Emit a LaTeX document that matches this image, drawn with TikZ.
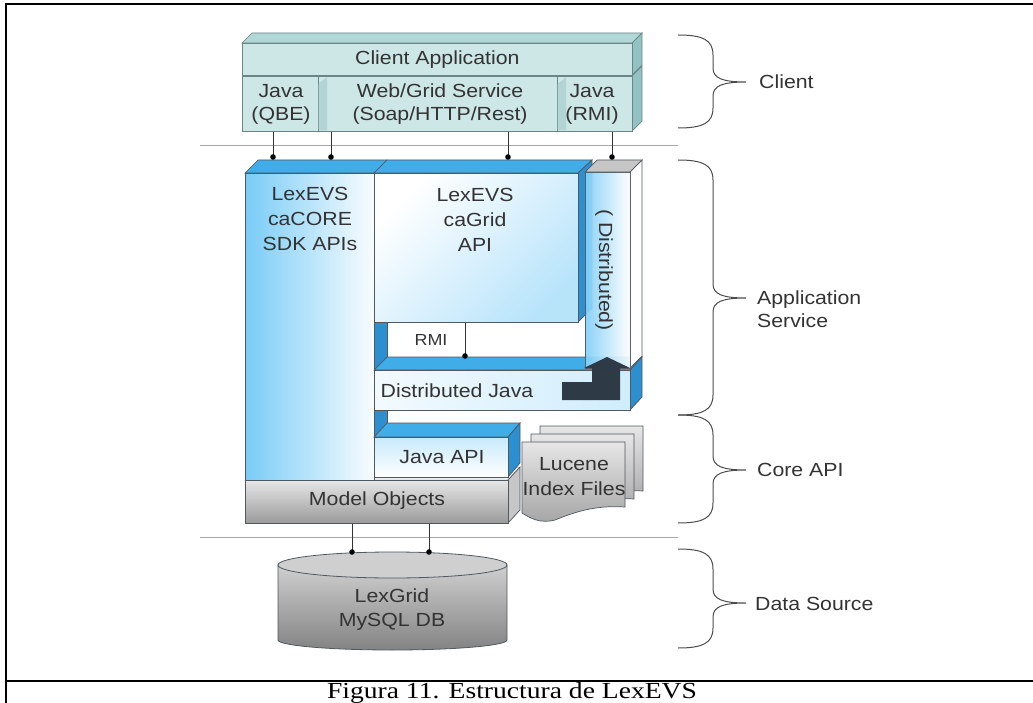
\documentclass[tikz,border=0pt]{standalone}
\usepackage{fontspec}
\setmainfont{Liberation Sans}[FakeStretch=1.12]
\newfontfamily\capfont{Liberation Serif}[FakeStretch=1.2]
\definecolor{tealF}{HTML}{CDE6E6}
\definecolor{tealT}{HTML}{B2D7D7}
\definecolor{tealS}{HTML}{92C2C2}
\definecolor{tealB}{HTML}{6A8585}
\definecolor{blueT}{HTML}{40ACE8}
\definecolor{blueS}{HTML}{2B8FD0}
\definecolor{blueL}{HTML}{62C3F5}
\definecolor{bord}{HTML}{505860}
\definecolor{grayT}{HTML}{E6E6E6}
\definecolor{grayB}{HTML}{9A9A9A}
\definecolor{grayS}{HTML}{C6C6C6}
\definecolor{darkA}{HTML}{2E3B47}
\definecolor{txt}{HTML}{333333}
\definecolor{sepc}{HTML}{A8A8A8}
\newcommand\mybrace[3]{\draw[brace] (678,#1) .. controls (703,#1) and (713,{#1+5}) .. (713,{#1+20}) -- (713,{#2-14}) .. controls (713,{#2-4}) and (722,#2) .. (746,#2) .. controls (722,#2) and (713,{#2+4}) .. (713,{#2+14}) -- (713,{#3-20}) .. controls (713,{#3-5}) and (703,#3) .. (678,#3);}
\newcommand\lucdoc{\path[draw=bord, line width=0.7pt, top color=grayT, bottom color=grayB!90] (522,442) -- (625,442) -- (625,507) .. controls (595,505) and (575,512) .. (555,520) .. controls (540,524) and (530,518) .. (522,513) -- cycle;}
\begin{document}
\begin{tikzpicture}[x=1pt,y=-1pt,
  lbl/.style={font=\fontsize{19}{23}\selectfont, text=txt, align=center, inner sep=0pt},
  tface/.style={draw=tealB, line width=0.7pt, fill=tealF, anchor=north west, inner sep=0pt},
  ttop/.style={draw=tealB, line width=0.7pt, fill=tealT},
  tside/.style={draw=tealB, line width=0.7pt, fill=tealS},
  btop/.style={draw=bord, line width=0.7pt, fill=blueT},
  bside/.style={draw=bord, line width=0.7pt, fill=blueS},
  bface/.style={draw=bord, line width=0.7pt, anchor=north west, inner sep=0pt},
  conn/.style={draw=black!80, line width=0.8pt},
  sepl/.style={draw=sepc, line width=0.8pt},
  brace/.style={draw=black!70, line width=1pt},
  dot/.style={fill=black}]
\useasboundingbox (0,0) rectangle (1033,703);
% frame
\draw[line width=2.2pt] (6,703) -- (6,4) -- (1033,4);
\draw[line width=2.2pt] (6,681) -- (1033,681);

% ---------- Client ----------
\path[tside] (632,76) -- (642,66) -- (642,121) -- (632,131) -- cycle;
\node[tface, minimum width=76, minimum height=55] (qbe) at (242,76) {};
\node[tface, minimum width=239, minimum height=55] (web) at (318,76) {};
\node[tface, minimum width=75, minimum height=55] (rmi) at (557,76) {};
\path[fill=tealS!70] (318.5,84) -- (327,77) -- (327,130.5) -- (318.5,130.5) -- cycle;
\path[fill=tealS!70] (557.5,84) -- (566,77) -- (566,130.5) -- (557.5,130.5) -- cycle;
\node[lbl] at (281,104) {Java\\(QBE)};
\node[lbl] at (440,104) {Web/Grid Service\\(Soap/HTTP/Rest)};
\node[lbl] at (592,104) {Java\\(RMI)};
\path[ttop] (242,43) -- (252,33) -- (642,33) -- (632,43) -- cycle;
\path[tside] (632,43) -- (642,33) -- (642,65) -- (632,75) -- cycle;
\node[tface, minimum width=390, minimum height=32] (capp) at (242,43) {};
\node[lbl] at (capp) {Client Application};

\draw[sepl] (200,145) -- (678,145);

% connectors client -> services
\coordinate (d1) at (273,157);
\coordinate (d2) at (331,157);
\coordinate (d3) at (508,157);
\coordinate (d4) at (612,157);
\draw[conn] (qbe.south -| d1) -- (d1);
\draw[conn] (web.south -| d2) -- (d2);
\draw[conn] (web.south -| d3) -- (d3);
\draw[conn] (rmi.south -| d4) -- (d4);

% ---------- Model objects top (mostly hidden) ----------
\path[draw=bord!50, line width=0.5pt, fill=grayT!60] (245,480) -- (258,467) -- (520,467) -- (508,480) -- cycle;

% ---------- SDK block ----------
\path[btop] (245,173) -- (258,160) -- (387,160) -- (374,173) -- cycle;
\node[bface, left color=blueL!85, right color=white!96!blueL, minimum width=129, minimum height=307] (sdk) at (245,173) {};
\node[lbl, font=\fontsize{19}{25}\selectfont] at (310,219) {LexEVS\\caCORE\\SDK APIs};

% ---------- caGrid block ----------
\path[btop] (374,173) -- (387,160) -- (592,160) -- (578,173) -- cycle;
\path[bside] (578,173) -- (592,160) -- (592,308) -- (578,322) -- cycle;
\node[bface, top color=white, bottom color=blueL!45, shading angle=45, minimum width=204, minimum height=149] (grid) at (374,173) {};
\node[lbl, font=\fontsize{19}{25}\selectfont] at (475,220) {LexEVS\\caGrid\\API};

% blue strip
\path[bside] (374,322) rectangle (387,437);
\node[lbl, font=\fontsize{16}{18}\selectfont] at (431,340) {RMI};
\coordinate (r1) at (465,356);
\draw[conn] (grid.south -| r1) -- (r1);

% ---------- Distributed Java ----------
\path[btop] (374,370) -- (387,357) -- (642,357) -- (630,370) -- cycle;
\path[bside] (630,370) -- (642,357) -- (642,397) -- (630,410) -- cycle;
\node[bface, left color=white!92!blueL, right color=blueL!30, minimum width=256, minimum height=40] (djava) at (374,370) {};
\node[lbl] at (457,391) {Distributed Java};

% ---------- Distributed column ----------
\path[draw=bord, line width=0.7pt, fill=grayS] (585,172) -- (597,160) -- (642,160) -- (630,172) -- cycle;
\path[draw=bord, line width=0.7pt, fill=white] (630,172) -- (642,160) -- (642,356) -- (630,368) -- cycle;
\node[bface, left color=blueL!80, right color=white, opacity=0.92, minimum width=45, minimum height=196] (dist) at (585,172) {};
\node[lbl, rotate=-90] at (604,270) {( Distributed)};

% dark arrow
\fill[darkA] (562,400) -- (620,400) -- (620,368) -- (630,368) -- (607,357) -- (584,368) -- (592,368) -- (592,382) -- (562,382) -- cycle;

% ---------- Java API ----------
\path[btop] (374,437) -- (387,423) -- (520,423) -- (508,437) -- cycle;
\path[bside] (508,437) -- (520,423) -- (520,463) -- (508,477) -- cycle;
\node[bface, top color=blueL!35, bottom color=white, minimum width=134, minimum height=40] (japi) at (374,437) {};
\node[lbl] at (442,457) {Java API};

% ---------- Model Objects ----------
\path[draw=bord, line width=0.7pt, fill=grayS] (508,480) -- (520,467) -- (520,510) -- (508,523) -- cycle;
\node[bface, top color=grayT, bottom color=grayB, minimum width=263, minimum height=43] (model) at (245,480) {};
\node[lbl] at (377,501) {Model Objects};

% ---------- Lucene ----------
\begin{scope}[shift={(18,-16)}]\lucdoc\end{scope}
\begin{scope}[shift={(9,-8)}]\lucdoc\end{scope}
\lucdoc
\node[lbl, font=\fontsize{19}{25}\selectfont] (luc) at (574,477) {Lucene\\Index Files};

\draw[sepl] (200,537) -- (678,537);

% ---------- DB ----------
\path[draw=bord, line width=0.8pt, top color=grayT!90!black, bottom color=grayB!85!black] (278,565) -- (278,640) arc[start angle=180, end angle=0, x radius=114.5, y radius=10] -- (507,565) -- cycle;
\path[draw=bord, line width=0.8pt, fill=grayS!85] (392.5,565) ellipse [x radius=114.5, y radius=13];
\node[lbl, font=\fontsize{19}{24}\selectfont] (db) at (392,610) {LexGrid\\MySQL DB};
\coordinate (m1) at (352,552);
\coordinate (m2) at (429,552);
\draw[conn] (model.south -| m1) -- (m1);
\draw[conn] (model.south -| m2) -- (m2);

% dots
\foreach \p in {d1,d2,d3,d4,r1,m1,m2} \fill[dot] (\p) circle (2.8);

% ---------- braces ----------
\mybrace{35}{82}{128}
\mybrace{160}{298}{415}
\mybrace{415}{470}{523}
\mybrace{549}{603}{648}
\node[lbl, anchor=west, align=left] at (759,82) {Client};
\node[lbl, anchor=west, align=left] at (757,309) {Application\\Service};
\node[lbl, anchor=west, align=left] at (757,470) {Core API};
\node[lbl, anchor=west, align=left] at (755,604) {Data Source};

% caption
\node[font=\capfont\fontsize{23}{25}\selectfont, anchor=base, inner sep=0pt] (cap) at (512,698) {Figura 11. Estructura de LexEVS};
\end{tikzpicture}
\end{document}
